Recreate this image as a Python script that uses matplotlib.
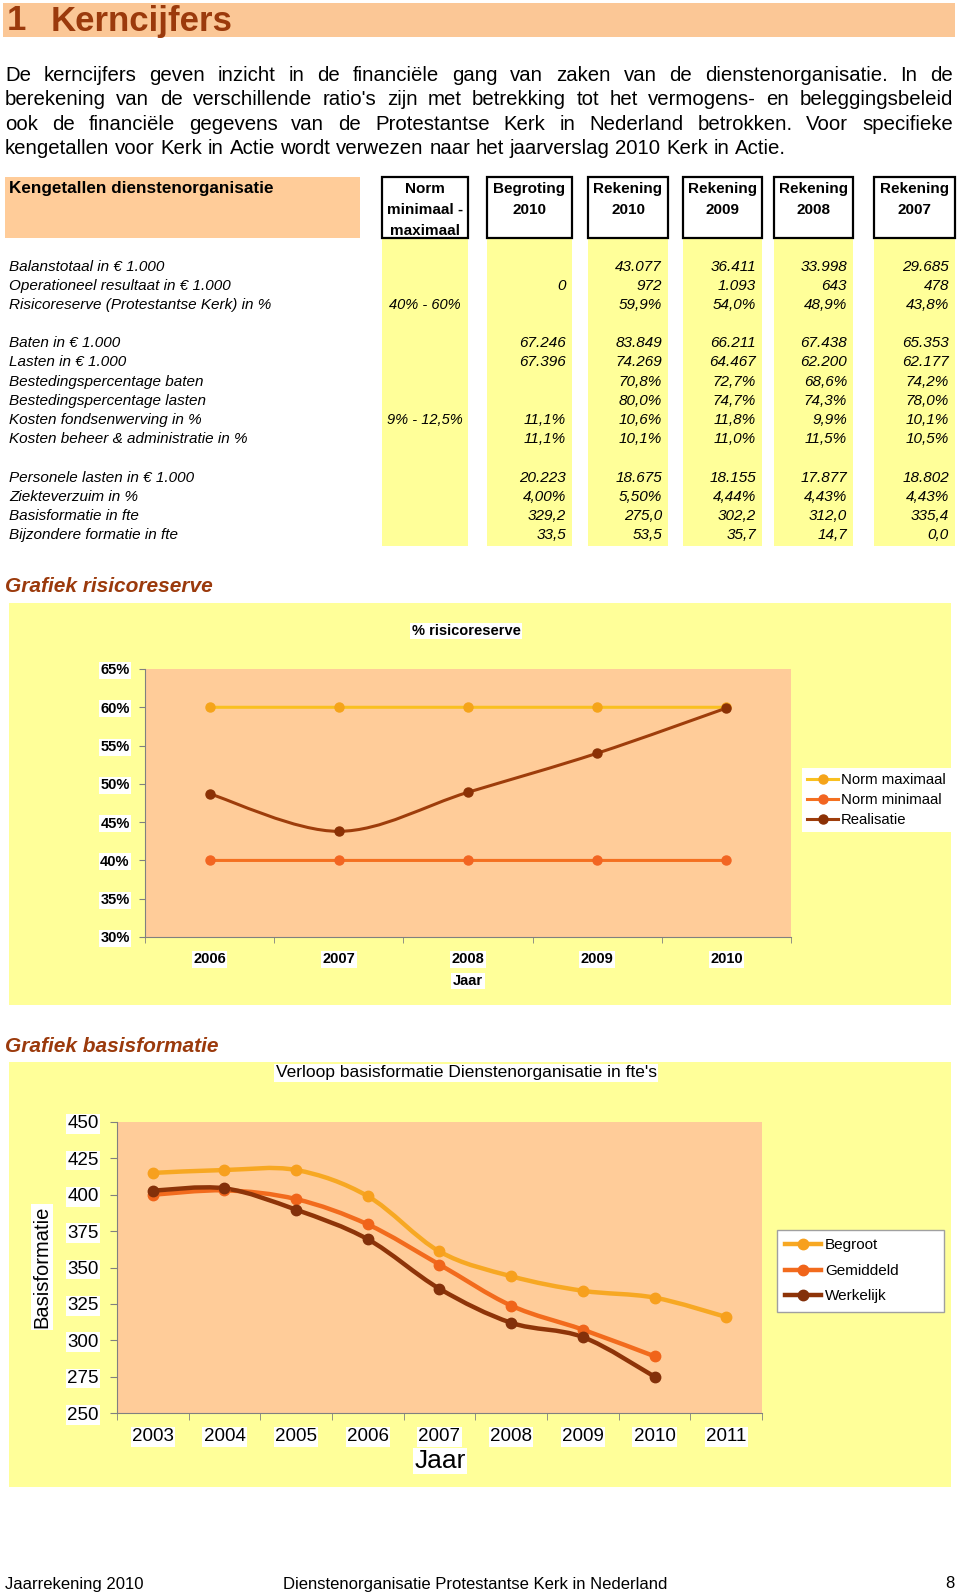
import numpy as np
import matplotlib
matplotlib.use("Agg")
import matplotlib.pyplot as plt
from matplotlib.patches import Rectangle, PathPatch
from matplotlib.path import Path
from matplotlib.lines import Line2D

plt.rcParams["font.family"] = ["Liberation Sans", "DejaVu Sans"]

# ---------------- data ----------------
paragraph = [
    "De kerncijfers geven inzicht in de financiële gang van zaken van de dienstenorganisatie. In de",
    "berekening van de verschillende ratio's zijn met betrekking tot het vermogens- en beleggingsbeleid",
    "ook de financiële gegevens van de Protestantse Kerk in Nederland betrokken. Voor specifieke",
    "kengetallen voor Kerk in Actie wordt verwezen naar het jaarverslag 2010 Kerk in Actie.",
]

col_headers = ["Norm\nminimaal -\nmaximaal", "Begroting\n2010", "Rekening\n2010",
               "Rekening\n2009", "Rekening\n2008", "Rekening\n2007"]

row_labels = [
    "Balanstotaal in € 1.000", "Operationeel resultaat in € 1.000",
    "Risicoreserve (Protestantse Kerk) in %",
    "Baten in € 1.000", "Lasten in € 1.000", "Bestedingspercentage baten",
    "Bestedingspercentage lasten", "Kosten fondsenwerving in %",
    "Kosten beheer & administratie in %",
    "Personele lasten in € 1.000", "Ziekteverzuim in %", "Basisformatie in fte",
    "Bijzondere formatie in fte",
]
norm = ["", "", "40% - 60%", "", "", "", "", "9% - 12,5%", "", "", "", "", ""]
begroting_2010 = ["", "0", "", "67.246", "67.396", "", "", "11,1%", "11,1%",
                  "20.223", "4,00%", "329,2", "33,5"]
rekening_2010 = ["43.077", "972", "59,9%", "83.849", "74.269", "70,8%", "80,0%",
                 "10,6%", "10,1%", "18.675", "5,50%", "275,0", "53,5"]
rekening_2009 = ["36.411", "1.093", "54,0%", "66.211", "64.467", "72,7%", "74,7%",
                 "11,8%", "11,0%", "18.155", "4,44%", "302,2", "35,7"]
rekening_2008 = ["33.998", "643", "48,9%", "67.438", "62.200", "68,6%", "74,3%",
                 "9,9%", "11,5%", "17.877", "4,43%", "312,0", "14,7"]
rekening_2007 = ["29.685", "478", "43,8%", "65.353", "62.177", "74,2%", "78,0%",
                 "10,1%", "10,5%", "18.802", "4,43%", "335,4", "0,0"]

# grafiek risicoreserve
years_risico = ["2006", "2007", "2008", "2009", "2010"]
norm_maximaal = [60, 60, 60, 60, 60]
norm_minimaal = [40, 40, 40, 40, 40]
realisatie = [48.7, 43.8, 48.9, 54.0, 59.9]
risico_ticks = [30, 35, 40, 45, 50, 55, 60, 65]

# grafiek basisformatie
years_formatie = ["2003", "2004", "2005", "2006", "2007", "2008", "2009", "2010", "2011"]
begroot = [415, 417, 417, 399, 361, 344, 334, 329.3, 316]
gemiddeld = [400, 403, 397, 379.6, 352, 323.8, 307.3, 289]
werkelijk = [402.8, 404.4, 389.7, 369.4, 335.4, 312.0, 302.2, 275.0]
formatie_ticks = [250, 275, 300, 325, 350, 375, 400, 425, 450]

# ---------------- page ----------------
W, H = 960, 1596
BROWN = "#9B3A0C"
PEACH = "#FFCC99"
YELLOW = "#FFFF99"

fig = plt.figure(figsize=(9.6, 15.96), dpi=100)
page = fig.add_axes([0, 0, 1, 1], zorder=0)
page.set_xlim(0, W)
page.set_ylim(H, 0)
page.axis("off")
renderer = fig.canvas.get_renderer()


def box(x0, y0, x1, y1, **kw):
    page.add_patch(Rectangle((x0, y0), x1 - x0, y1 - y0, **kw))


def axes_px(x0, y0, x1, y1):
    return fig.add_axes([x0 / W, 1 - y1 / H, (x1 - x0) / W, (y1 - y0) / H], zorder=2)


def justify(line, y, x0, x1, size, last=False):
    words = line.split(" ")
    texts = [page.text(0, y, w, fontsize=size, va="baseline", ha="left") for w in words]
    widths = [t.get_window_extent(renderer).width for t in texts]
    if last:
        gap = 0.278 * size * 100 / 72
    else:
        gap = (x1 - x0 - sum(widths)) / (len(words) - 1)
    x = x0
    for t, w in zip(texts, widths):
        t.set_x(x)
        x += w + gap


def smooth_path(xs, ys):
    pts = np.column_stack([xs, ys]).astype(float)
    n = len(pts)
    verts, codes = [pts[0]], [Path.MOVETO]
    for i in range(n - 1):
        p0, p1 = pts[max(i - 1, 0)], pts[i]
        p2, p3 = pts[i + 1], pts[min(i + 2, n - 1)]
        verts += [p1 + (p2 - p0) / 6, p2 - (p3 - p1) / 6, p2]
        codes += [Path.CURVE4] * 3
    return Path(verts, codes)


# title band
box(3, 3, 955, 37, fc="#FBC796", ec="none")
page.text(7, 21, "1", fontsize=25, weight="bold", color=BROWN, va="center")
page.text(51, 21, "Kerncijfers", fontsize=25, weight="bold", color=BROWN, va="center")

# paragraph
for i, line in enumerate(paragraph):
    justify(line, 81 + 24.3 * i, 5, 953, 14.7, last=(i == len(paragraph) - 1))

# ---------------- table ----------------
box(5, 177, 360, 238, fc=PEACH, ec="none")
page.text(9, 189, "Kengetallen dienstenorganisatie", fontsize=12.3, weight="bold", va="center")

col_x = [(382, 468), (487, 572), (588, 668), (683, 762), (774, 853), (874, 955)]
columns = [norm, begroting_2010, rekening_2010, rekening_2009, rekening_2008, rekening_2007]
row_y = [266.7, 285.7, 305, 343.3, 362.3, 381.7, 401, 420, 439.3, 477.7, 496.7, 515.7, 535]

for (x0, x1), head, vals in zip(col_x, col_headers, columns):
    box(x0, 238, x1, 546, fc=YELLOW, ec="none")
    box(x0, 177, x1, 238, fc="white", ec="black", lw=1.6)
    for j, part in enumerate(head.split("\n")):
        page.text((x0 + x1) / 2, 189 + 21 * j, part, fontsize=11, weight="bold",
                  ha="center", va="center")
    for y, v in zip(row_y, vals):
        if vals is norm:
            page.text(425, y, v, fontsize=10.5, style="italic", ha="center", va="center")
        else:
            page.text(x1 - 6, y, v, fontsize=11, style="italic", ha="right", va="center")

for y, lab in zip(row_y, row_labels):
    page.text(9, y, lab, fontsize=11, style="italic", va="center")

# ---------------- chart 1: risicoreserve ----------------
page.text(5, 587, "Grafiek risicoreserve", fontsize=15, weight="bold", style="italic",
          color=BROWN, va="center")
box(9, 603, 951, 1005, fc=YELLOW, ec="none")
white = dict(facecolor="white", edgecolor="none", pad=1)
page.text(466, 631, "% risicoreserve", fontsize=10.5, weight="bold", ha="center",
          va="center", bbox=white)
page.text(468, 981, "Jaar", fontsize=10.5, weight="bold", ha="center", va="center", bbox=white)

ax1 = axes_px(145, 669, 791, 937)
ax1.set_facecolor(PEACH)
x1 = np.arange(len(years_risico))
series1 = [
    ("Norm maximaal", norm_maximaal, "#F9C020", "#F5A41A"),
    ("Norm minimaal", norm_minimaal, "#F47020", "#F26522"),
    ("Realisatie", realisatie, "#9E3D0B", "#8B3105"),
]
handles1 = []
for label, vals, lc, mc in series1:
    ax1.add_patch(PathPatch(smooth_path(x1, vals), fill=False, ec=lc, lw=2.2,
                            capstyle="round", joinstyle="round", zorder=3))
    ax1.plot(x1, vals, "o", ls="none", color=mc, ms=6.5, zorder=4)
    handles1.append(Line2D([], [], color=lc, lw=2.2, marker="o", mfc=mc, mec=mc, ms=6.5))

ax1.set_xlim(-0.5, len(years_risico) - 0.5)
ax1.set_ylim(30, 65)
ax1.set_yticks(risico_ticks)
ax1.set_yticklabels([f"{t}%" for t in risico_ticks], fontsize=10.5, weight="bold")
ax1.set_xticks(x1)
ax1.set_xticklabels(years_risico, fontsize=10.5, weight="bold")
ax1.set_xticks(np.arange(-0.5, len(years_risico)), minor=True)
ax1.tick_params(axis="x", which="major", length=0, pad=11)
ax1.tick_params(axis="x", which="minor", length=4, color="#808080")
ax1.tick_params(axis="y", length=4, color="#808080", pad=7)
for lab in ax1.get_yticklabels() + ax1.get_xticklabels():
    lab.set_bbox(white)
for s in ["top", "right"]:
    ax1.spines[s].set_visible(False)
for s in ["left", "bottom"]:
    ax1.spines[s].set_color("#808080")

leg1 = ax1.legend(handles1, [s[0] for s in series1], loc="upper left",
                  bbox_to_anchor=(802, 768), bbox_transform=page.transData,
                  borderaxespad=0, borderpad=0.35, fontsize=10.7, handlelength=2.1,
                  handletextpad=0.15, labelspacing=0.4, fancybox=False,
                  framealpha=1, edgecolor="none", facecolor="white")

# ---------------- chart 2: basisformatie ----------------
page.text(5, 1046, "Grafiek basisformatie", fontsize=15, weight="bold", style="italic",
          color=BROWN, va="center")
box(9, 1062, 951, 1487, fc=YELLOW, ec="none")
page.text(466, 1073, "Verloop basisformatie Dienstenorganisatie in fte's", fontsize=12.5,
          ha="center", va="center", bbox=white)
page.text(440, 1461, "Jaar", fontsize=19, ha="center", va="center", bbox=white)
page.text(42, 1267, "Basisformatie", fontsize=14.5, rotation=90, ha="center", va="center",
          bbox=white)

ax2 = axes_px(117, 1122, 762, 1413)
ax2.set_facecolor(PEACH)
x2 = np.arange(len(years_formatie))
series2 = [
    ("Begroot", begroot, "#F7A823", "#F7A01E"),
    ("Gemiddeld", gemiddeld, "#F26B1D", "#F0641A"),
    ("Werkelijk", werkelijk, "#8E3408", "#83300A"),
]
handles2 = []
for label, vals, lc, mc in series2:
    xs = x2[:len(vals)]
    ax2.add_patch(PathPatch(smooth_path(xs, vals), fill=False, ec=lc, lw=3.2,
                            capstyle="round", joinstyle="round", zorder=3))
    ax2.plot(xs, vals, "o", ls="none", color=mc, ms=7.5, zorder=4)
    handles2.append(Line2D([], [], color=lc, lw=3.2, marker="o", mfc=mc, mec=mc, ms=7.5))

ax2.set_xlim(-0.5, len(years_formatie) - 0.5)
ax2.set_ylim(250, 450)
ax2.set_yticks(formatie_ticks)
ax2.set_yticklabels([str(t) for t in formatie_ticks], fontsize=13.5)
ax2.set_xticks(x2)
ax2.set_xticklabels(years_formatie, fontsize=13.5)
ax2.set_xticks(np.arange(-0.5, len(years_formatie)), minor=True)
ax2.tick_params(axis="x", which="major", length=0, pad=11)
ax2.tick_params(axis="x", which="minor", length=5, color="#808080")
ax2.tick_params(axis="y", length=5, color="#808080", pad=8)
for lab in ax2.get_yticklabels() + ax2.get_xticklabels():
    lab.set_bbox(white)
for s in ["top", "right"]:
    ax2.spines[s].set_visible(False)
for s in ["left", "bottom"]:
    ax2.spines[s].set_color("#808080")

leg2 = ax2.legend(handles2, [s[0] for s in series2], loc="upper left",
                  bbox_to_anchor=(777, 1230, 167, 78), bbox_transform=page.transData,
                  mode="expand", borderaxespad=0, borderpad=0.55, fontsize=11,
                  handlelength=2.3, handletextpad=0.3, labelspacing=0.75, fancybox=False,
                  framealpha=1, edgecolor="#A0A0A0", facecolor="white")
leg2.get_frame().set_linewidth(1)

# ---------------- footer ----------------
page.text(5, 1584, "Jaarrekening 2010", fontsize=12, va="center")
page.text(283, 1584, "Dienstenorganisatie Protestantse Kerk in Nederland", fontsize=12, va="center")
page.text(955, 1584, "8", fontsize=12, ha="right", va="center")

fig.savefig("out.png", dpi=100, facecolor="white")
